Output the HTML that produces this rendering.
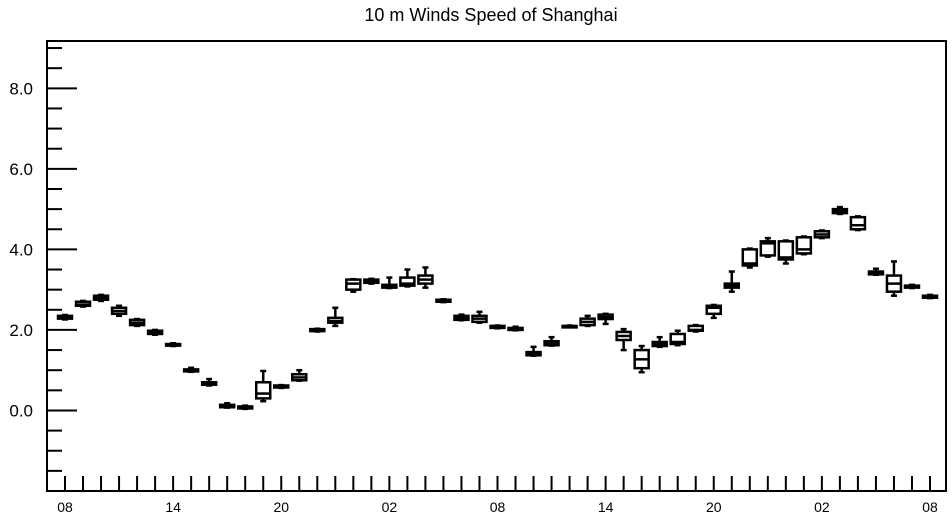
<!DOCTYPE html>
<html><head><meta charset="utf-8"><style>
body{margin:0;background:#fff;}
svg text{font-family:"Liberation Sans",Arial,sans-serif;fill:#000;}
</style></head><body>
<svg id="chart" width="952" height="520" viewBox="0 0 952 520" xmlns="http://www.w3.org/2000/svg">
<text x="491" y="21" font-size="18" text-anchor="middle">10 m Winds Speed of Shanghai</text>
<rect x="47" y="41" width="899" height="450" fill="none" stroke="#000" stroke-width="2"/>
<g id="ticks"></g>
<g id="boxes"></g>
</svg>
<script>
const hourLabels = ["08","14","20","02","08","14","20","02","08"];
const yTickValues = [0,2,4,6,8];
const mins = [2.26,2.58,2.72,2.35,2.1,1.88,1.6,0.96,0.62,0.07,0.04,0.23,0.56,0.74,1.96,2.1,2.95,3.15,3.04,3.08,3.05,2.69,2.24,2.18,2.04,1.99,1.36,1.61,2.07,2.1,2.15,1.5,0.95,1.58,1.62,1.96,2.3,2.95,3.55,3.82,3.65,3.88,4.28,4.88,4.48,3.37,2.85,3.04,2.79];
const q1s = [2.28,2.6,2.75,2.4,2.12,1.9,1.61,0.97,0.64,0.08,0.05,0.3,0.57,0.75,1.97,2.18,3.0,3.17,3.05,3.1,3.15,2.7,2.25,2.2,2.05,2.0,1.37,1.62,2.08,2.12,2.27,1.75,1.05,1.6,1.65,1.98,2.4,3.05,3.6,3.85,3.75,3.9,4.3,4.9,4.5,3.38,2.95,3.05,2.8];
const meds = [2.31,2.63,2.8,2.47,2.18,1.94,1.63,0.99,0.66,0.11,0.07,0.42,0.59,0.82,1.99,2.22,3.15,3.21,3.08,3.15,3.25,2.72,2.3,2.28,2.07,2.02,1.41,1.67,2.09,2.2,2.32,1.85,1.27,1.65,1.7,2.0,2.55,3.1,3.65,4.15,3.8,4.0,4.37,4.95,4.6,3.41,3.15,3.07,2.82];
const q3s = [2.35,2.7,2.85,2.55,2.25,1.98,1.65,1.02,0.7,0.14,0.1,0.7,0.62,0.9,2.02,2.3,3.25,3.25,3.12,3.3,3.35,2.75,2.35,2.35,2.1,2.05,1.45,1.72,2.1,2.28,2.38,1.95,1.5,1.7,1.9,2.1,2.6,3.15,4.0,4.2,4.2,4.3,4.45,5.0,4.8,3.45,3.35,3.1,2.85];
const maxs = [2.37,2.72,2.87,2.6,2.27,2.0,1.67,1.06,0.78,0.18,0.12,0.98,0.63,1.0,2.03,2.55,3.26,3.27,3.3,3.5,3.55,2.76,2.38,2.45,2.11,2.08,1.58,1.82,2.11,2.35,2.4,2.02,1.6,1.82,1.98,2.12,2.62,3.45,4.02,4.28,4.22,4.32,4.47,5.05,4.82,3.52,3.7,3.12,2.87];

const L=47,R=946,T=41,B=491,YMIN=-2,YMAX=9.175;
const NS="http://www.w3.org/2000/svg";
function yS(v){return B-(v-YMIN)/(YMAX-YMIN)*(B-T);}
function xS(i){return 65+i*(930-65)/(mins.length-1);}
function mk(tag,attrs,parent){const e=document.createElementNS(NS,tag);for(const k in attrs)e.setAttribute(k,attrs[k]);parent.appendChild(e);return e;}
const tg=document.getElementById('ticks'), bg=document.getElementById('boxes');
// y minor ticks
for(let v=-1.5;v<=9;v+=0.5){
  const major=yTickValues.includes(v);
  const ln=mk('line',{x1:L,x2:L+(major?30:15),y1:yS(v),y2:yS(v),stroke:'#000','stroke-width':2},tg);
  
  
}
yTickValues.forEach(v=>{
  const t=mk('text',{x:33,y:yS(v)+6,'font-size':17,'text-anchor':'end'},tg);
  t.textContent=v.toFixed(1);
  
  
});
for(let i=0;i<mins.length;i++){
  const ln=mk('line',{x1:xS(i),x2:xS(i),y1:B,y2:B-15,stroke:'#000','stroke-width':2},tg);
  
  
}
hourLabels.forEach((h,j)=>{
  const t=mk('text',{x:xS(j*6),y:512,'font-size':14,'text-anchor':'middle'},tg);
  t.textContent=h;
  
  
});
for(let i=0;i<mins.length;i++){
  const g=mk('g',{stroke:'#000','stroke-width':2.5,fill:'none'},bg);
  
  
  const x=xS(i),w=14;
  mk('line',{x1:x,x2:x,y1:yS(maxs[i]),y2:yS(q3s[i])},g);
  mk('line',{x1:x,x2:x,y1:yS(q1s[i]),y2:yS(mins[i])},g);
  mk('line',{x1:x-3,x2:x+3,y1:yS(maxs[i]),y2:yS(maxs[i])},g);
  mk('line',{x1:x-3,x2:x+3,y1:yS(mins[i]),y2:yS(mins[i])},g);
  const y3=yS(q3s[i]),y1=yS(q1s[i]);
  mk('rect',{x:x-w/2,y:y3,width:w,height:Math.max(y1-y3,1.5),fill:'#fff'},g);
  mk('line',{x1:x-w/2,x2:x+w/2,y1:yS(meds[i]),y2:yS(meds[i])},g);
}
</script>
</body></html>
